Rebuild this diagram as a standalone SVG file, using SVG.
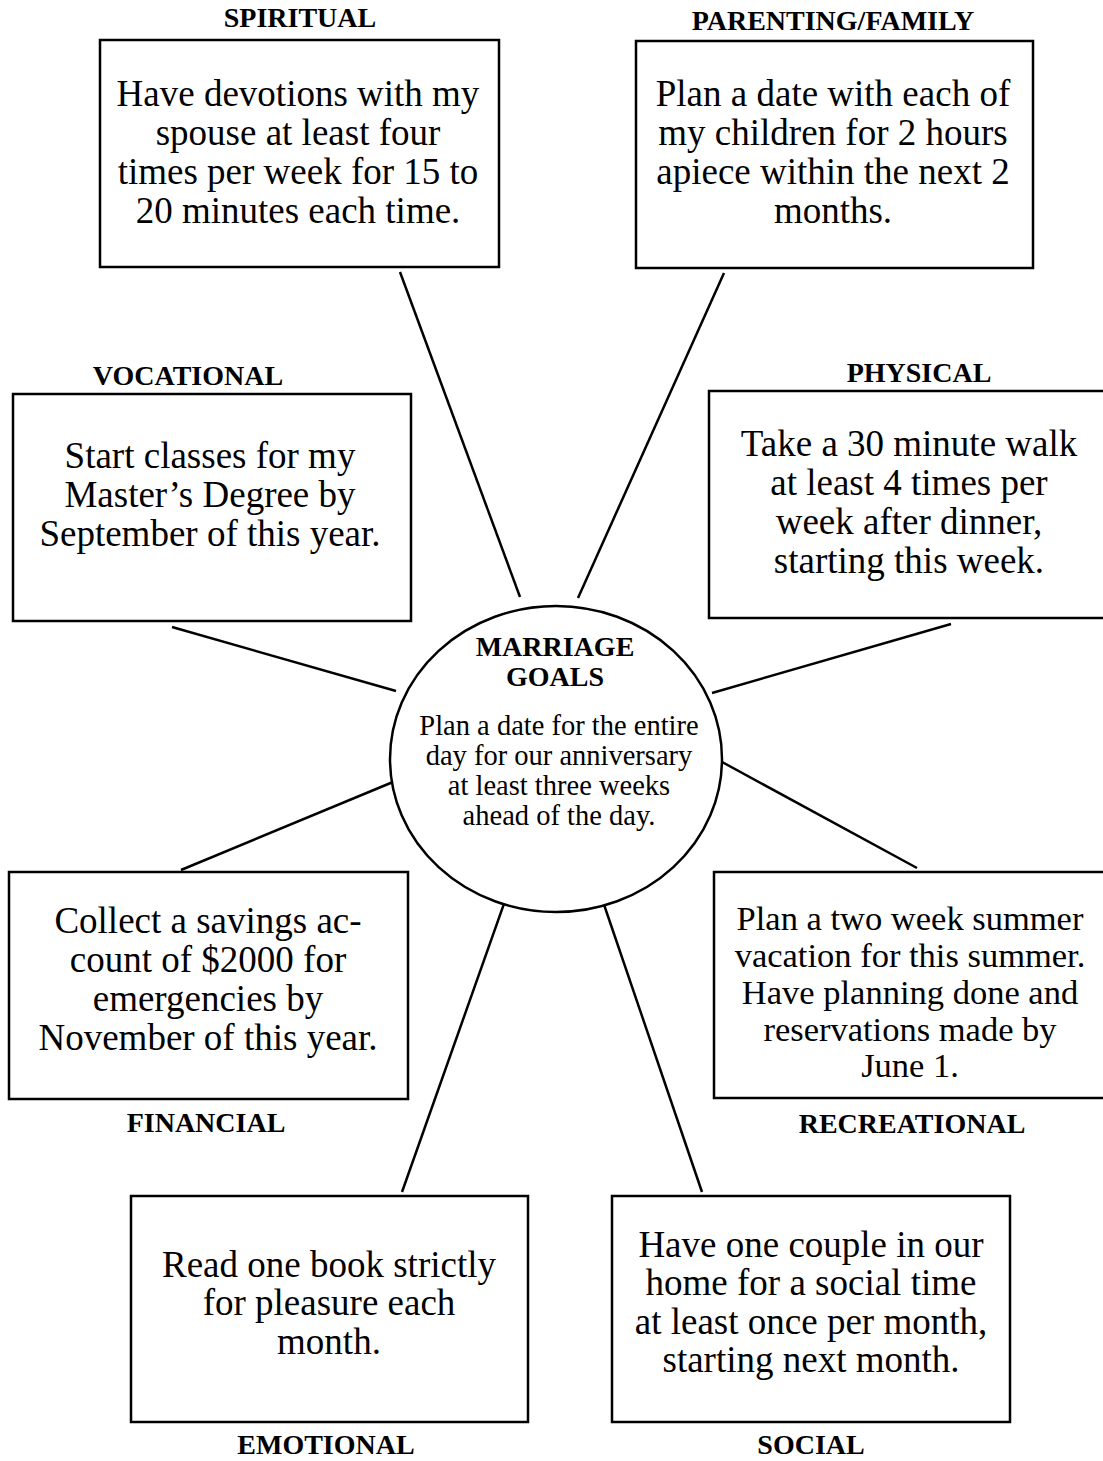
<svg xmlns="http://www.w3.org/2000/svg" width="1103" height="1461" viewBox="0 0 1103 1461">
<style>
.box{fill:#fff;stroke:#000;stroke-width:2.5}
.lbl{font-family:"Liberation Serif",serif;font-weight:bold;font-size:28px;text-anchor:middle;fill:#000}
.t{font-family:"Liberation Serif",serif;font-size:37px;text-anchor:middle;fill:#000}
.t2{font-family:"Liberation Serif",serif;font-size:34.5px;text-anchor:middle;fill:#000}
.c{font-family:"Liberation Serif",serif;font-size:28.5px;text-anchor:middle;fill:#000}
.cl{font-family:"Liberation Serif",serif;font-weight:bold;font-size:28px;text-anchor:middle;fill:#000}
.ln{stroke:#000;stroke-width:2.5;fill:none}
</style>
<rect width="1103" height="1461" fill="#fff"/>
<g id="connectors">
<line class="ln" x1="400" y1="272" x2="520" y2="597"/>
<line class="ln" x1="724" y1="273" x2="578" y2="598"/>
<line class="ln" x1="172" y1="627" x2="396" y2="691"/>
<line class="ln" x1="951" y1="624" x2="712" y2="693"/>
<line class="ln" x1="181" y1="870" x2="393" y2="782"/>
<line class="ln" x1="917" y1="868" x2="722" y2="762"/>
<line class="ln" x1="402" y1="1192" x2="511" y2="884"/>
<line class="ln" x1="702" y1="1192" x2="598" y2="887"/>
</g>
<g id="center">
<ellipse class="box" cx="556" cy="759" rx="166" ry="153"/>
<text class="cl" x="555" y="656">MARRIAGE</text>
<text class="cl" x="555" y="686">GOALS</text>
<text class="c" x="559" y="735">Plan a date for the entire</text>
<text class="c" x="559" y="765">day for our anniversary</text>
<text class="c" x="559" y="795">at least three weeks</text>
<text class="c" x="559" y="825">ahead of the day.</text>
</g>
<g id="spiritual">
<text class="lbl" x="300" y="27">SPIRITUAL</text>
<rect class="box" x="100" y="40" width="399" height="227"/>
<text class="t" x="298" y="106">Have devotions with my</text>
<text class="t" x="298" y="145">spouse at least four</text>
<text class="t" x="298" y="184">times per week for 15 to</text>
<text class="t" x="298" y="223">20 minutes each time.</text>
</g>
<g id="parenting">
<text class="lbl" x="833" y="30">PARENTING/FAMILY</text>
<rect class="box" x="636" y="41" width="397" height="227"/>
<text class="t" x="833" y="106">Plan a date with each of</text>
<text class="t" x="833" y="145">my children for 2 hours</text>
<text class="t" x="833" y="184">apiece within the next 2</text>
<text class="t" x="833" y="223">months.</text>
</g>
<g id="vocational">
<text class="lbl" x="188" y="385">VOCATIONAL</text>
<rect class="box" x="13" y="394" width="398" height="227"/>
<text class="t" x="210" y="468">Start classes for my</text>
<text class="t" x="210" y="507">Master’s Degree by</text>
<text class="t" x="210" y="546">September of this year.</text>
</g>
<g id="physical">
<text class="lbl" x="919" y="382">PHYSICAL</text>
<rect class="box" x="709" y="391" width="396" height="227"/>
<text class="t" x="909" y="456">Take a 30 minute walk</text>
<text class="t" x="909" y="495">at least 4 times per</text>
<text class="t" x="909" y="534">week after dinner,</text>
<text class="t" x="909" y="573">starting this week.</text>
</g>
<g id="financial">
<rect class="box" x="9" y="872" width="399" height="227"/>
<text class="t" x="208" y="933">Collect a savings ac-</text>
<text class="t" x="208" y="972">count of $2000 for</text>
<text class="t" x="208" y="1011">emergencies by</text>
<text class="t" x="208" y="1050">November of this year.</text>
<text class="lbl" x="206" y="1132">FINANCIAL</text>
</g>
<g id="recreational">
<rect class="box" x="714" y="872" width="391" height="226"/>
<text class="t2" x="910" y="930">Plan a two week summer</text>
<text class="t2" x="910" y="967">vacation for this summer.</text>
<text class="t2" x="910" y="1004">Have planning done and</text>
<text class="t2" x="910" y="1041">reservations made by</text>
<text class="t2" x="910" y="1077">June 1.</text>
<text class="lbl" x="912" y="1133">RECREATIONAL</text>
</g>
<g id="emotional">
<rect class="box" x="131" y="1196" width="397" height="226"/>
<text class="t" x="329" y="1277">Read one book strictly</text>
<text class="t" x="329" y="1315">for pleasure each</text>
<text class="t" x="329" y="1354">month.</text>
<text class="lbl" x="326" y="1454">EMOTIONAL</text>
</g>
<g id="social">
<rect class="box" x="612" y="1196" width="398" height="226"/>
<text class="t" x="811" y="1257">Have one couple in our</text>
<text class="t" x="811" y="1295">home for a social time</text>
<text class="t" x="811" y="1334">at least once per month,</text>
<text class="t" x="811" y="1372">starting next month.</text>
<text class="lbl" x="811" y="1454">SOCIAL</text>
</g>
</svg>
